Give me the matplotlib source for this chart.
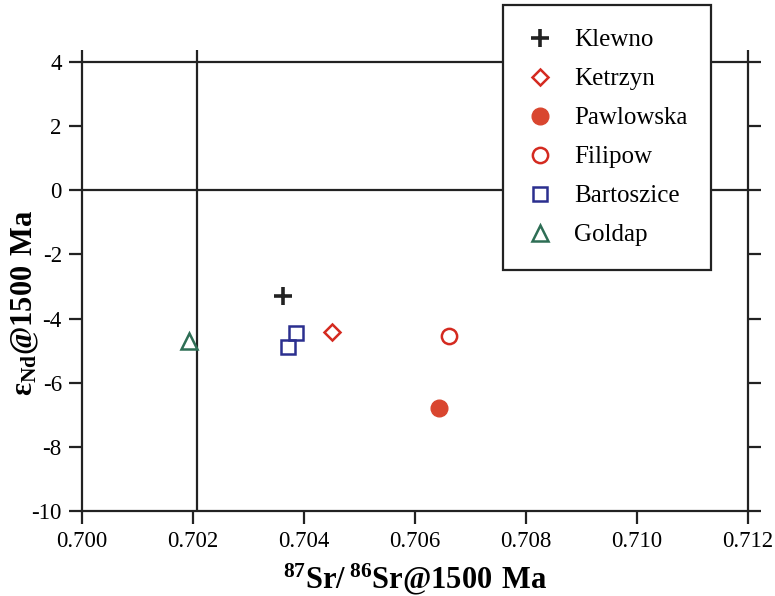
import matplotlib
matplotlib.use("Agg")
import matplotlib.pyplot as plt
from matplotlib.ticker import FormatStrFormatter

plt.rcParams['font.family'] = ['Liberation Serif', 'DejaVu Serif']
plt.rcParams['axes.unicode_minus'] = False
plt.rcParams['mathtext.fontset'] = 'custom'
plt.rcParams['mathtext.rm'] = 'Liberation Serif'
plt.rcParams['mathtext.bf'] = 'Liberation Serif:bold'

# Data
klewno_x = [0.70362]
klewno_y = [-3.30]
ketrzyn_x = [0.70451]
ketrzyn_y = [-4.41]
pawlowska_x = [0.70643]
pawlowska_y = [-6.80]
filipow_x = [0.70662]
filipow_y = [-4.54]
bartoszice_x = [0.70385, 0.70371]
bartoszice_y = [-4.44, -4.88]
goldap_x = [0.70192]
goldap_y = [-4.70]

x_ticks = [0.700, 0.702, 0.704, 0.706, 0.708, 0.710, 0.712]
y_ticks = [-10, -8, -6, -4, -2, 0, 2, 4]
bulk_earth_sr = 0.70207
chur_eps = 0

dark = '#222222'
fig = plt.figure(figsize=(7.75, 5.96), dpi=100)
ax = fig.add_axes([82/775, 1-511/596, (748-82)/775, (511-62)/596])
ax.set_xlim(0.700, 0.712)
ax.set_ylim(-10, 4)

for s in ax.spines.values():
    s.set_linewidth(1.6)
    s.set_color(dark)

ax.axvline(bulk_earth_sr, color=dark, lw=1.6, zorder=1)
ax.axhline(chur_eps, color=dark, lw=1.6, zorder=1)

ax.set_xticks(x_ticks)
ax.set_yticks(y_ticks)
ax.xaxis.set_major_formatter(FormatStrFormatter('%.3f'))
ax.tick_params(axis='both', direction='out', length=9.5, width=1.6, color=dark,
               labelsize=16.5, pad=5)
ax.tick_params(axis='y', right=True, labelright=False)
top = ax.secondary_xaxis('top')
top.set_xticks([0.700, bulk_earth_sr, 0.712])
top.tick_params(direction='out', length=9, width=1.6, color=dark, labeltop=False)
top.spines['top'].set_visible(False)

ax.plot(klewno_x, klewno_y, ls='none', marker='+', ms=13, mew=2.6, color=dark, label='Klewno')
ax.plot(ketrzyn_x, ketrzyn_y, ls='none', marker='D', ms=8, mew=1.8, mfc='none', mec='#d42a20', label='Ketrzyn')
ax.plot(pawlowska_x, pawlowska_y, ls='none', marker='o', ms=12, mew=1.0, mfc='#d9462f', mec='#d9462f', label='Pawlowska')
ax.plot(filipow_x, filipow_y, ls='none', marker='o', ms=11, mew=1.8, mfc='none', mec='#d42a20', label='Filipow')
ax.plot(bartoszice_x, bartoszice_y, ls='none', marker='s', ms=10.5, mew=1.8, mfc='none', mec='#2b2f8f', label='Bartoszice')
ax.plot(goldap_x, goldap_y, ls='none', marker='^', ms=11, mew=1.8, mfc='none', mec='#2e6e55', label='Goldap')

xl = ax.set_xlabel(r'$\mathbf{^{87}Sr/\,^{86}Sr@1500\ Ma}$', fontsize=22)
ax.xaxis.set_label_coords(0.5, (511-579)/449)
xl.set_va('center')
yl = ax.set_ylabel(r'$\mathbf{\varepsilon_{Nd}@1500\ Ma}$', fontsize=22)
ax.yaxis.set_label_coords((25-82)/666, (511-303)/449)
yl.set_va('center')

h, l = ax.get_legend_handles_labels()
leg = fig.legend(h, l, loc='upper left', bbox_to_anchor=(503/775, 1-5/596),
                 bbox_transform=fig.transFigure, borderaxespad=0,
                 fontsize=18, frameon=True, fancybox=False, framealpha=1,
                 edgecolor=dark, labelspacing=0.66, handletextpad=0.82,
                 handlelength=1.08, borderpad=0.95)
leg.get_frame().set_linewidth(1.6)

fig.savefig('out.png', dpi=100)
